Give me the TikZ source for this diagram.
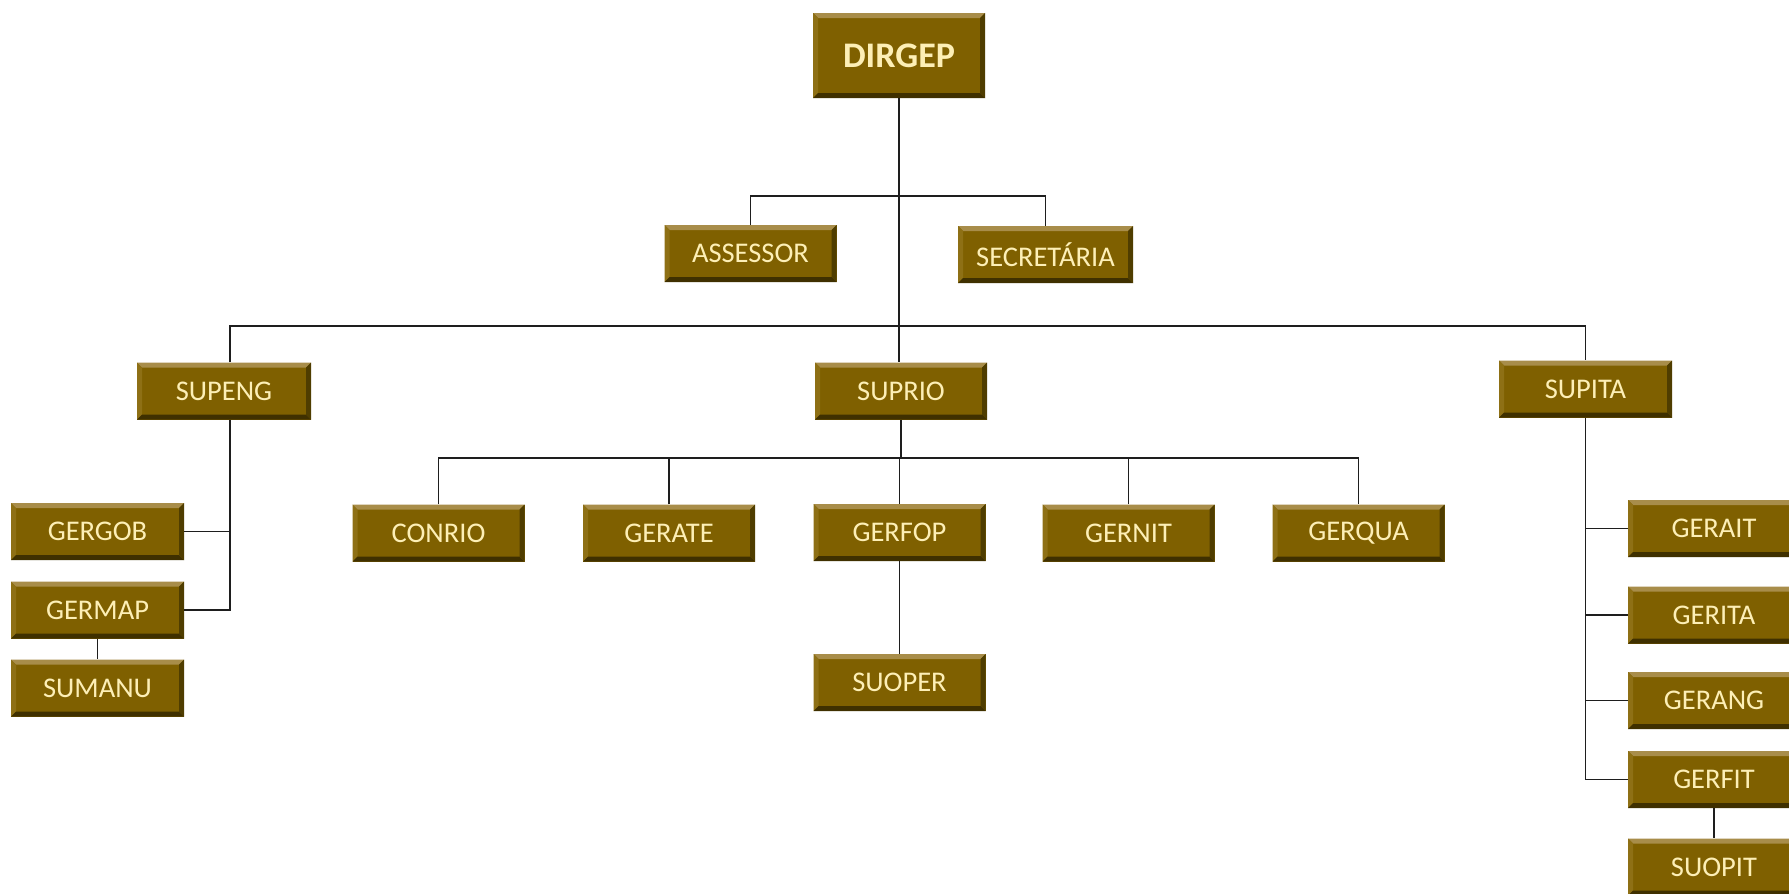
\documentclass[tikz,border=0pt]{standalone}
\usepackage{fontspec}
\setmainfont{Carlito}
\definecolor{boxbase}{HTML}{7F6000}
\definecolor{boxlight}{HTML}{A88D4A}
\definecolor{boxleft}{HTML}{8E7015}
\definecolor{boxdark}{HTML}{3F3000}
\definecolor{boxright}{HTML}{4F3D00}
\definecolor{boxtext}{HTML}{FDEFB6}
\definecolor{wire}{HTML}{1E1E1E}
\tikzset{
  orgbox/.style={rectangle, inner sep=0pt, minimum width=172pt, minimum height=57pt,
    fill=boxbase, text=boxtext, font=\fontsize{28.5}{30}\selectfont,
    path picture={
      \coordinate (nw) at (path picture bounding box.north west);
      \coordinate (ne) at (path picture bounding box.north east);
      \coordinate (sw) at (path picture bounding box.south west);
      \coordinate (se) at (path picture bounding box.south east);
      % bevel faces: light top and left, dark bottom and right
      \fill[boxlight] (nw) -- (ne) -- ([shift={(-5pt,-5pt)}]ne) -- ([shift={(5pt,-5pt)}]nw) -- cycle;
      \fill[boxleft] (nw) -- ([shift={(5pt,-5pt)}]nw) -- ([shift={(5pt,5pt)}]sw) -- (sw) -- cycle;
      \fill[boxdark] (sw) -- (se) -- ([shift={(-5pt,5pt)}]se) -- ([shift={(5pt,5pt)}]sw) -- cycle;
      \fill[boxright] (ne) -- ([shift={(-5pt,-5pt)}]ne) -- ([shift={(-5pt,5pt)}]se) -- (se) -- cycle;
    }},
  topbox/.style={orgbox, minimum height=85pt, font=\fontsize{36}{38}\selectfont\bfseries},
  wire/.style={draw=wire, line width=1.6pt}
}
\begin{document}
\begin{tikzpicture}[x=1pt, y=-1pt]
  \clip (0,0) rectangle (1789,894);
  \fill[white] (0,0) rectangle (1789,894);

  % top level
  \node[topbox] (dirgep) at (899,55.5) {DIRGEP};
  \node[orgbox] (assessor) at (750.5,253.5) {ASSESSOR};
  \node[orgbox, minimum width=175pt] (secretaria) at (1045.5,254.5) {SECRETÁRIA};

  % superintendencies
  \node[orgbox, minimum width=174pt] (supeng) at (224,391) {SUPENG};
  \node[orgbox] (suprio) at (901,391) {SUPRIO};
  \node[orgbox, minimum width=173pt] (supita) at (1585.5,389) {SUPITA};

  % SUPRIO departments
  \node[orgbox] (conrio) at (438.5,533) {CONRIO};
  \node[orgbox] (gerate) at (669,533) {GERATE};
  \node[orgbox] (gerfop) at (899.5,532.5) {GERFOP};
  \node[orgbox] (gernit) at (1128.5,533) {GERNIT};
  \node[orgbox] (gerqua) at (1358.5,533) {GERQUA};
  \node[orgbox] (suoper) at (899.5,682.5) {SUOPER};

  % SUPENG departments
  \node[orgbox, minimum width=173pt] (gergob) at (97.5,531.5) {GERGOB};
  \node[orgbox, minimum width=173pt] (germap) at (97.5,610) {GERMAP};
  \node[orgbox, minimum width=173pt] (sumanu) at (97.5,688) {SUMANU};

  % SUPITA departments
  \node[orgbox] (gerait) at (1714,528.5) {GERAIT};
  \node[orgbox] (gerita) at (1714,615) {GERITA};
  \node[orgbox] (gerang) at (1714,700.5) {GERANG};
  \node[orgbox] (gerfit) at (1714,779.5) {GERFIT};
  \node[orgbox] (suopit) at (1714,867) {SUOPIT};

  % bus lines
  \coordinate (staffbus) at (899,196);
  \coordinate (supbus) at (899,326);
  \coordinate (riobus) at (900,458);
  \coordinate (engspine) at ([xshift=6pt]supeng.south);
  \coordinate (engtop) at ([xshift=6pt]supeng.north);

  \draw[wire] (dirgep.south) -- (dirgep.south |- suprio.north);
  \draw[wire] (assessor.north) |- (staffbus) -| (secretaria.north);
  \draw[wire] (engtop) |- (supbus) -| (supita.north);

  % SUPENG branch
  \draw[wire] (engspine) |- (germap.east);
  \draw[wire] (gergob.east) -- (gergob.east -| engspine);
  \draw[wire] (germap.south) -- (sumanu.north);

  % SUPRIO branch
  \draw[wire] (suprio.south) -- (suprio.south |- riobus);
  \draw[wire] (conrio.north) |- (riobus) -| (gerqua.north);
  \draw[wire] (gerate.north) -- (gerate.north |- riobus);
  \draw[wire] (gerfop.north) -- (gerfop.north |- riobus);
  \draw[wire] (gernit.north) -- (gernit.north |- riobus);
  \draw[wire] (gerfop.south) -- (suoper.north);

  % SUPITA branch
  \draw[wire] (supita.south) |- (gerfit.west);
  \draw[wire] (gerait.west) -- (gerait.west -| supita.south);
  \draw[wire] (gerita.west) -- (gerita.west -| supita.south);
  \draw[wire] (gerang.west) -- (gerang.west -| supita.south);
  \draw[wire] (gerfit.south) -- (suopit.north);
\end{tikzpicture}
\end{document}
